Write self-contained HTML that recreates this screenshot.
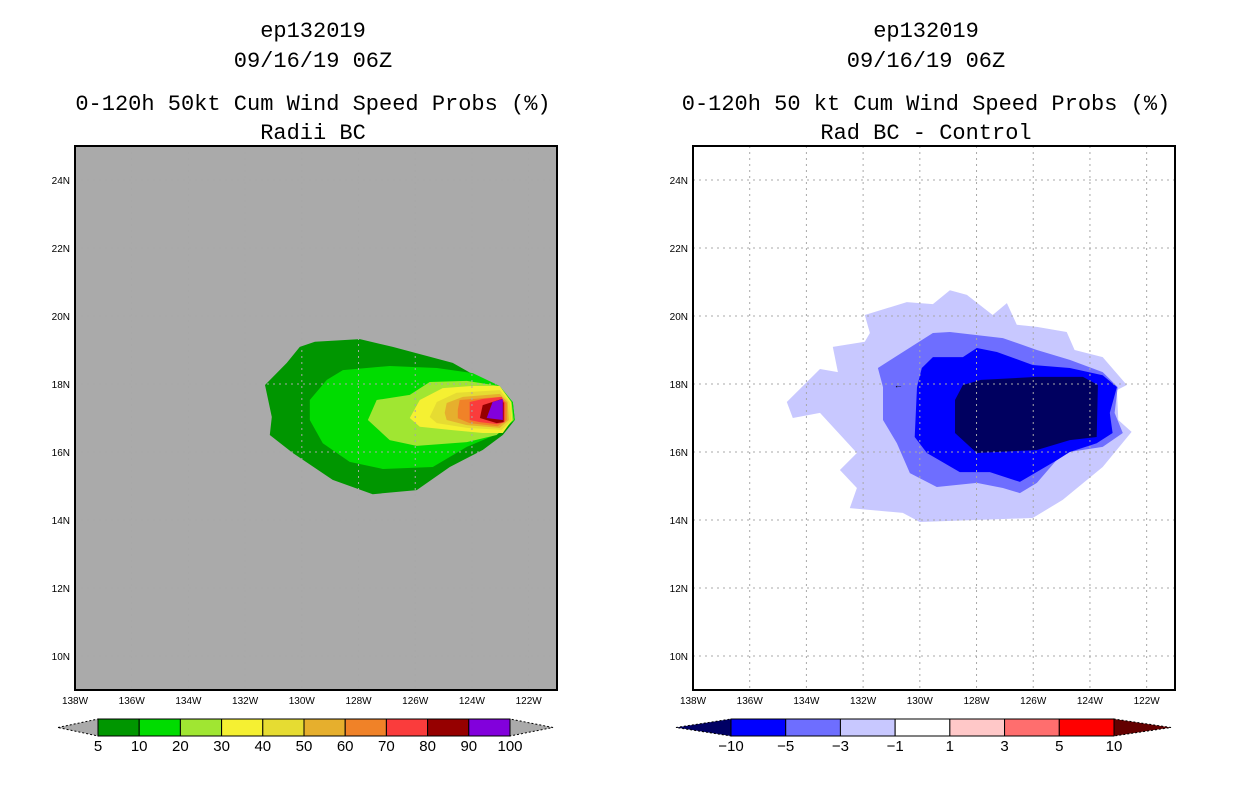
<!DOCTYPE html>
<html><head><meta charset="utf-8"><style>
body{margin:0;background:#fff;}
svg{display:block;}
text{font-family:"Liberation Mono",monospace;fill:#000;}
.t{font-size:22px;text-anchor:middle;}
.tk{font-family:"Liberation Sans",sans-serif;font-size:10px;}
.cb{font-family:"Liberation Sans",sans-serif;font-size:15px;text-anchor:middle;}
</style></head><body>
<svg id="c" width="1236" height="800" viewBox="0 0 1236 800" xmlns="http://www.w3.org/2000/svg">
<g>
<text class="t" x="313" y="37">ep132019</text>
<text class="t" x="313" y="67">09/16/19 06Z</text>
<text class="t" x="313" y="110">0-120h 50kt Cum Wind Speed Probs (%)</text>
<text class="t" x="313" y="139">Radii BC</text>
</g>
<g>
<text class="t" x="926" y="37">ep132019</text>
<text class="t" x="926" y="67">09/16/19 06Z</text>
<text class="t" x="926" y="110">0-120h 50 kt Cum Wind Speed Probs (%)</text>
<text class="t" x="926" y="139">Rad BC - Control</text>
</g>
</svg>
<script>
// ---- data ----
const lonTicks=[138,136,134,132,130,128,126,124,122];
const latTicks=[24,22,20,18,16,14,12,10];
const leftLevels=[5,10,20,30,40,50,60,70,80,90,100];
const leftColors=["#009600","#00dc00","#a0e632","#f5f032","#e6dc32","#e6af2d","#f08228","#fa3c3c","#960000","#8200dc"];
const rightLevels=[-10,-5,-3,-1,1,3,5,10];
const rightColors=["#000064","#0000ff","#6e6eff","#c8c8ff","#ffffff","#ffc8c8","#ff6e6e","#ff0000","#640000"];
// contour polygons [lonW, latN]
const p5=[[129.54,19.24],[127.95,19.32],[126.79,19.09],[124.68,18.62],[123.62,18.12],[123.2,17.97],[122.56,17.47],[122.49,16.94],[122.91,16.5],[123.62,16.06],[124.78,15.56],[125.95,14.88],[127.5,14.76],[128.91,15.18],[130.32,15.97],[131.13,16.5],[131.06,17.03],[131.3,17.97],[130.53,18.62],[130.07,19.09]];
const p10=[[128.55,18.41],[126.9,18.53],[125.24,18.47],[123.97,18.32],[123.02,17.94],[122.56,17.47],[122.49,16.94],[123.02,16.56],[124.18,16.15],[125.38,15.56],[127.14,15.5],[128.31,15.71],[129.26,16.26],[129.72,16.94],[129.72,17.53],[129.12,18.12]];
const p20=[[127.36,17.53],[126.19,17.68],[125.49,18.06],[124.18,18.09],[123.02,17.94],[122.6,17.47],[122.53,16.94],[123.13,16.5],[124.18,16.29],[125.95,16.18],[126.9,16.35],[127.67,16.94]];
const p30=[[126.19,17.0],[125.84,17.53],[125.03,17.88],[124.01,17.94],[123.02,17.94],[122.62,17.47],[122.58,16.94],[122.91,16.56],[123.62,16.56],[124.78,16.65],[125.84,16.74]];
const p40=[[125.49,17.03],[125.24,17.47],[124.54,17.74],[123.02,17.82],[122.67,17.47],[122.6,16.94],[122.95,16.65],[124.18,16.71],[125.24,16.85]];
const p50=[[124.96,17.15],[124.89,17.44],[124.32,17.62],[123.02,17.71],[122.74,17.47],[122.7,16.94],[123.02,16.71],[124.18,16.79],[124.89,16.94]];
const p60=[[124.5,17.24],[124.43,17.53],[123.02,17.62],[122.77,17.44],[122.77,16.94],[123.09,16.76],[124.08,16.85],[124.5,16.99]];
const p70=[[124.08,16.94],[124.08,17.47],[123.62,17.56],[122.95,17.62],[122.84,17.44],[122.84,16.88],[123.13,16.82],[123.72,16.88]];
const p80=[[123.72,17.0],[123.62,17.38],[122.95,17.56],[122.88,17.44],[122.88,16.88],[123.13,16.85]];
const p90=[[123.48,17.0],[123.27,17.47],[122.91,17.56],[122.91,16.94]];
const leftPolys=[p5,p10,p20,p30,p40,p50,p60,p70,p80,p90];
const n1=[[134.69,17.47],[133.52,18.44],[132.89,18.35],[133.07,19.09],[131.94,19.24],[131.76,19.5],[131.94,20.03],[130.46,20.41],[129.54,20.35],[128.94,20.76],[128.34,20.62],[127.43,20.03],[126.93,20.38],[126.58,19.74],[125.87,19.68],[124.82,19.53],[124.54,19.0],[123.55,18.79],[122.7,17.97],[123.05,17.82],[123.0,16.94],[122.53,16.59],[123.55,15.56],[124.96,14.59],[126.02,14.06],[130.0,13.94],[130.6,14.21],[132.47,14.35],[132.22,14.94],[132.82,15.47],[132.22,15.97],[133.52,17.15],[134.48,17.0]];
const n3=[[131.48,18.47],[129.54,19.5],[128.94,19.53],[127.07,19.35],[125.87,19.0],[124.71,18.71],[123.55,18.35],[123.02,17.91],[123.13,17.15],[122.84,16.56],[123.55,16.15],[124.96,15.97],[125.87,15.09],[126.47,14.79],[127.07,14.94],[127.99,15.09],[129.4,14.97],[130.35,15.38],[130.81,16.26],[131.3,16.94],[131.3,17.91]];
const n5=[[129.93,18.47],[129.54,18.79],[128.48,18.79],[127.99,19.06],[127.28,18.94],[126.02,18.56],[124.71,18.47],[123.55,18.26],[123.05,17.91],[123.3,17.15],[123.2,16.56],[123.76,16.26],[124.71,16.0],[125.17,15.76],[126.47,15.12],[127.53,15.41],[128.59,15.41],[129.75,15.97],[130.18,16.44],[130.1,17.91]];
const n10=[[128.48,17.97],[127.85,18.12],[125.87,18.21],[124.25,18.21],[123.72,17.97],[123.76,16.44],[124.71,16.35],[125.87,16.06],[127.99,15.97],[128.76,16.56],[128.76,17.53]];
const rightPolys=[n1,n3,n5,n10];
const rightPolyColors=["#c8c8ff","#6e6eff","#0000ff","#000060"];

// ---- drawing ----
const NS="http://www.w3.org/2000/svg";
const svg=document.getElementById('c');
function mk(tag,attrs,parent){const e=document.createElementNS(NS,tag);for(const k in attrs)e.setAttribute(k,attrs[k]);(parent||svg).appendChild(e);return e;}
const PW=482,PH=544,PY=146;
function xs(x0){return lon=>x0+(138-lon)*(PW/17);}
function ys(lat){return PY+(25-lat)*(PH/16);}
function panel(x0,bg,polys,cols,prefix){
  const X=xs(x0);
  const g=mk('g',{});
  
  
  mk('rect',{x:x0,y:PY,width:PW,height:PH,fill:bg},g);
  polys.forEach((p,i)=>{
    const pl=mk('polygon',{points:p.map(q=>X(q[0]).toFixed(1)+','+ys(q[1]).toFixed(1)).join(' '),fill:cols[i]},g);
    
    
  });
  lonTicks.slice(1).forEach(l=>mk('line',{x1:X(l),x2:X(l),y1:PY,y2:PY+PH,stroke:'#a8a8a8','stroke-dasharray':'2,4','stroke-width':1},g));
  latTicks.forEach(l=>mk('line',{x1:x0,x2:x0+PW,y1:ys(l),y2:ys(l),stroke:'#a8a8a8','stroke-dasharray':'2,4','stroke-width':1},g));
  mk('rect',{x:x0,y:PY,width:PW,height:PH,fill:'none',stroke:'#000','stroke-width':2},g);
  lonTicks.forEach(l=>{
    const t=mk('text',{x:X(l),y:PY+PH+14,class:'tk','text-anchor':'middle'},g);t.textContent=l+'W';
    
    
  });
  latTicks.forEach(l=>{
    const t=mk('text',{x:x0-5,y:ys(l)+4,class:'tk','text-anchor':'end'},g);t.textContent=l+'N';
    
    
  });
  return X;
}
panel(75,'#aaaaaa',leftPolys,leftColors,'left');
const XR=panel(693,'#ffffff',rightPolys,rightPolyColors,'right');
const arr=mk('text',{x:XR(130.85),y:ys(17.97)+3,fill:'#0000ff','font-size':'9px'});
arr.textContent='←';



function colorbar(bx0,bx1,tx0,tx1,colors,labels,lcolor,rcolor,prefix){
  const g=mk('g',{});
  
  
  const y0=719,y1=736,ym=727.5;
  const n=colors.length, w=(bx1-bx0)/n;
  mk('polygon',{points:`${tx0},${ym} ${bx0},${y0} ${bx0},${y1}`,fill:lcolor,stroke:'#000','stroke-width':1,'stroke-dasharray':'2,2'},g);
  mk('polygon',{points:`${tx1},${ym} ${bx1},${y0} ${bx1},${y1}`,fill:rcolor,stroke:'#000','stroke-width':1,'stroke-dasharray':'2,2'},g);
  colors.forEach((c,i)=>{
    const r=mk('rect',{x:bx0+i*w,y:y0,width:w,height:y1-y0,fill:c,stroke:'#000','stroke-width':1},g);
    
    
  });
  labels.forEach((l,i)=>{
    const t=mk('text',{x:bx0+i*w,y:751,class:'cb'},g);t.textContent=String(l).replace('-','\u2212');
    
    
  });
}
colorbar(98,510,58,553,leftColors,leftLevels,'#aaaaaa','#aaaaaa','left');
colorbar(731,1114,676,1171,rightColors.slice(1,8),rightLevels,rightColors[0],rightColors[8],'right');
</script>
</body></html>
